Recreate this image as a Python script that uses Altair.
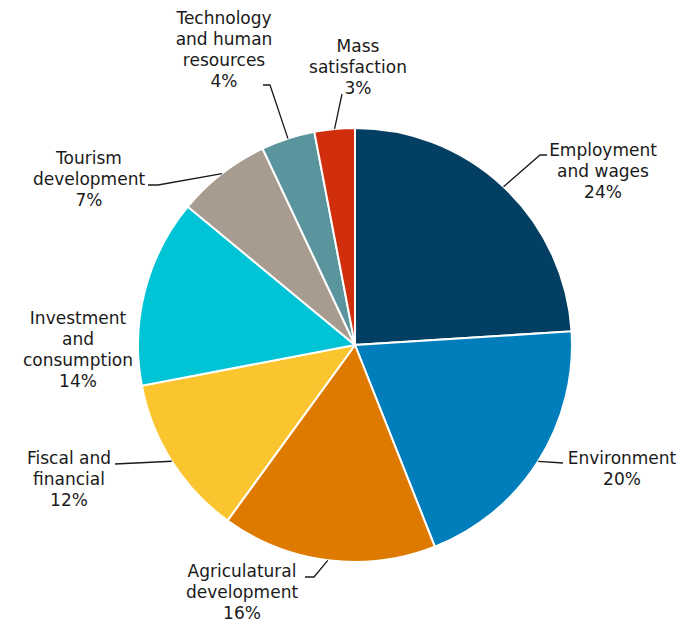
import math
import altair as alt
import pandas as pd

# ---- data ----
categories = [
    "Employment and wages", "Environment", "Agriculatural development",
    "Fiscal and financial", "Investment and consumption", "Tourism development",
    "Technology and human resources", "Mass satisfaction",
]
shares = [24, 20, 16, 12, 14, 7, 4, 3]
label_lines = [
    ["Employment", "and wages"],
    ["Environment"],
    ["Agriculatural", "development"],
    ["Fiscal and", "financial"],
    ["Investment", "and", "consumption"],
    ["Tourism", "development"],
    ["Technology", "and human", "resources"],
    ["Mass", "satisfaction"],
]
colors = ["#023f62", "#007dbb", "#de7a00", "#fbc530", "#00c4d5",
          "#a89c90", "#5a949d", "#d02e0d"]

# ---- layout (pixel offsets from pie centre, y downward) ----
R = 217
LH = 21
label_center = [(248, -173), (267, 124), (-113, 248), (-286, 135),
                (-277, 5), (-266, -165), (-131, -295), (3, -277)]
leader_tail = [  # points after the slice edge: (elbow, end)
    [(185, -190), (192, -190)],
    [(208, 118)],
    [(-41, 232), (-50, 232)],
    [(-240, 119)],
    [],
    [(-197, -160), (-207, -160)],
    [(-85, -260), (-92, -260)],
    [(-13, -251)],
]

total = sum(shares)
slices = pd.DataFrame({"cat": categories, "share": shares,
                       "ord": list(range(len(categories)))})

text_rows, line_rows = [], []
cum = 0
for i, (c, v) in enumerate(zip(categories, shares)):
    mid = (cum + v / 2) / total * 2 * math.pi
    cum += v
    dx, dy = label_center[i]
    lbl = label_lines[i] + [f"{v}%"]
    first_dy = dy - (len(lbl) - 1) * LH / 2
    text_rows.append({"cat": c, "lbl": lbl, "x": dx, "y": -first_dy})
    if leader_tail[i]:
        pts = [(R * math.sin(mid), R * math.cos(mid))] + [(px, -py) for px, py in leader_tail[i]]
        for k, (px, py) in enumerate(pts):
            line_rows.append({"cat": c, "k": k, "x": px, "y": py})

texts = pd.DataFrame(text_rows)
lines = pd.DataFrame(line_rows)

W, H = 660, 560
xs = alt.Scale(domain=[-W / 2, W / 2])
ys = alt.Scale(domain=[-H / 2, H / 2])

pie = alt.Chart(slices).mark_arc(radius=R, stroke="white", strokeWidth=2).encode(
    theta=alt.Theta("share:Q", stack=True),
    order=alt.Order("ord:Q", sort="ascending"),
    color=alt.Color("cat:N", scale=alt.Scale(domain=categories, range=colors), legend=None),
)

leaders = alt.Chart(lines).mark_line(color="#1a1a1a", strokeWidth=1.3).encode(
    x=alt.X("x:Q", scale=xs, axis=None),
    y=alt.Y("y:Q", scale=ys, axis=None),
    detail="cat:N",
    order="k:Q",
)

labels = alt.Chart(texts).mark_text(
    font="DejaVu Sans", fontSize=17, lineHeight=LH, color="#1a1a1a",
    align="center", baseline="middle",
).encode(
    x=alt.X("x:Q", scale=xs, axis=None),
    y=alt.Y("y:Q", scale=ys, axis=None),
    text="lbl",
)

chart = alt.layer(pie, leaders, labels).properties(
    width=W, height=H,
    autosize=alt.AutoSizeParams(type="none"),
    padding={"left": 17, "top": 57, "right": 0, "bottom": 0},
    background="white",
).configure_view(stroke=None)

chart.save("out.html", embed_options={"renderer": "svg", "actions": False})
